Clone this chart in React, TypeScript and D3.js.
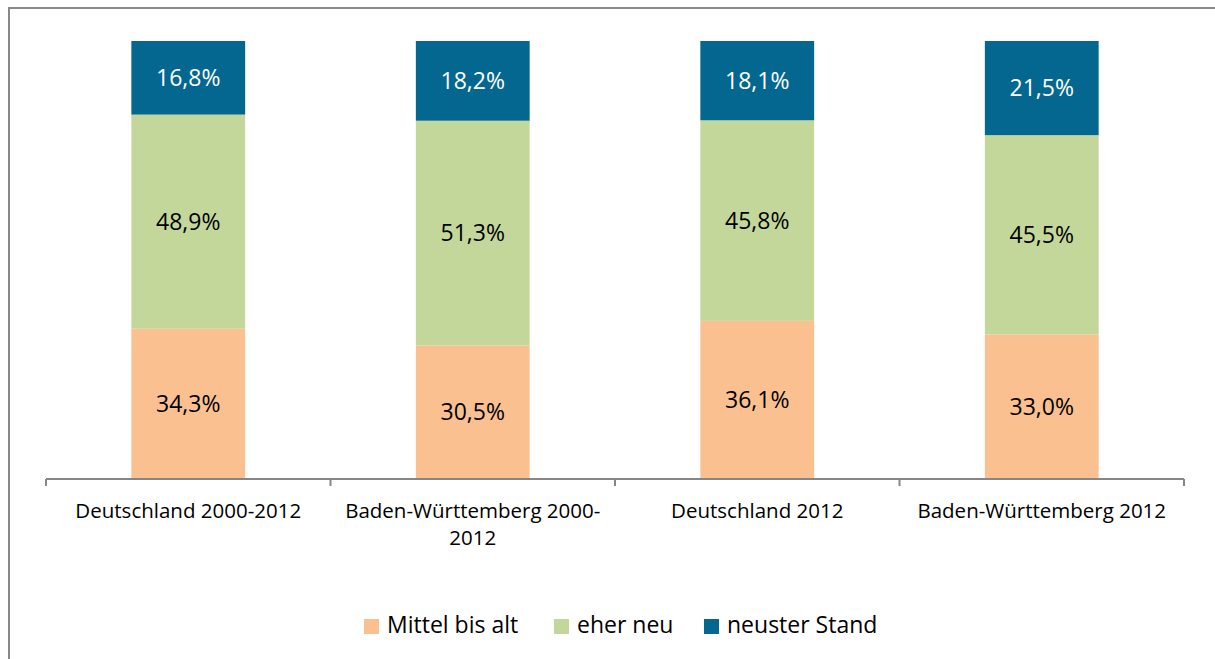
import React, { useRef, useEffect } from "react";
import * as d3 from "d3";

// categories (x axis), split in the lines the original wraps them into
const categories = [
  "Deutschland 2000-2012",
  "Baden-Württemberg 2000-2012",
  "Deutschland 2012",
  "Baden-Württemberg 2012",
];
const categoryLines = [
  ["Deutschland 2000-2012"],
  ["Baden-Württemberg 2000-", "2012"],
  ["Deutschland 2012"],
  ["Baden-Württemberg 2012"],
];

const seriesNames = ["Mittel bis alt", "eher neu", "neuster Stand"];
const seriesColors = ["#FAC090", "#C4D79B", "#03678F"];
const labelColors = ["#000", "#000", "#fff"];

// shares in percent, per series, per category
const mittelBisAlt = [34.3, 30.5, 36.1, 33.0];
const eherNeu = [48.9, 51.3, 45.8, 45.5];
const neusterStand = [16.8, 18.2, 18.1, 21.5];

const FONT = "'Open Sans', sans-serif";

const App = () => {
  const ref = useRef<SVGSVGElement | null>(null);

  useEffect(() => {
    document.body.style.margin = "0";
    const svg = d3.select(ref.current);
    svg.selectAll("*").remove();

    const W = 1215;
    const H = 659;
    const plot = { left: 46, right: 1184, top: 41, bottom: 479 };

    // chart frame
    svg
      .append("rect")
      .attr("x", 9)
      .attr("y", 8)
      .attr("width", W + 20)
      .attr("height", H + 20)
      .attr("fill", "#fff")
      .attr("stroke", "#888")
      .attr("stroke-width", 2);

    const x = d3
      .scaleBand()
      .domain(categories)
      .range([plot.left, plot.right])
      .padding(0);

    const y = d3.scaleLinear().domain([0, 100]).range([plot.bottom, plot.top]);

    const rows = categories.map((c, i) => ({
      cat: c,
      s0: mittelBisAlt[i],
      s1: eherNeu[i],
      s2: neusterStand[i],
    }));
    const stack = d3.stack<any>().keys(["s0", "s1", "s2"]);
    const layers = stack(rows);

    const barW = x.bandwidth() * 0.4;

    layers.forEach((layer, li) => {
      const g = svg.append("g");
      g.selectAll("rect")
        .data(layer)
        .enter()
        .append("rect")
        .attr("x", (d) => x(d.data.cat)! + (x.bandwidth() - barW) / 2)
        .attr("width", barW)
        .attr("y", (d) => y(d[1]))
        .attr("height", (d) => y(d[0]) - y(d[1]))
        .attr("fill", seriesColors[li]);

      g.selectAll("text")
        .data(layer)
        .enter()
        .append("text")
        .attr("x", (d) => x(d.data.cat)! + x.bandwidth() / 2)
        .attr("y", (d) => (y(d[0]) + y(d[1])) / 2)
        .attr("dy", "0.36em")
        .attr("text-anchor", "middle")
        .style("font-family", FONT)
        .style("font-size", "23px")
        .style("fill", labelColors[li])
        .text((d) => (d[1] - d[0]).toFixed(1).replace(".", ",") + "%");
    });

    // x axis: line with ticks between categories
    const axis = svg
      .append("g")
      .attr("transform", `translate(0,${plot.bottom})`)
      .call(d3.axisBottom(x).tickSize(0).tickFormat(() => ""));
    axis.select(".domain").attr("stroke", "#868686").attr("stroke-width", 2).attr("d", `M${plot.left},0H${plot.right}`);
    axis.selectAll(".tick").remove();

    const bounds = [plot.left, ...categories.map((c) => x(c)! + x.bandwidth())];
    svg
      .append("g")
      .selectAll("line")
      .data(bounds)
      .enter()
      .append("line")
      .attr("x1", (d) => d)
      .attr("x2", (d) => d)
      .attr("y1", plot.bottom)
      .attr("y2", plot.bottom + 7)
      .attr("stroke", "#868686")
      .attr("stroke-width", 2);

    // category labels
    categories.forEach((c, i) => {
      const t = svg
        .append("text")
        .attr("text-anchor", "middle")
        .style("font-family", FONT)
        .style("font-size", "20.5px")
        .style("fill", "#000");
      categoryLines[i].forEach((line, j) => {
        t.append("tspan")
          .attr("x", x(c)! + x.bandwidth() / 2)
          .attr("y", 518 + j * 27)
          .text(line);
      });
    });

    // legend
    const legendX = [364, 554, 704];
    const legend = svg.append("g");
    seriesNames.forEach((name, i) => {
      legend
        .append("rect")
        .attr("x", legendX[i])
        .attr("y", 619)
        .attr("width", 15)
        .attr("height", 15)
        .attr("fill", seriesColors[i]);
      legend
        .append("text")
        .attr("x", legendX[i] + 23)
        .attr("y", 633)
        .style("font-family", FONT)
        .style("font-size", "23px")
        .style("fill", "#000")
        .text(name);
    });
  }, []);

  return (
    <div style={{ position: "absolute", left: 0, top: 0 }}>
      <svg ref={ref} width={1215} height={659} style={{ display: "block" }} />
    </div>
  );
};

export default App;
